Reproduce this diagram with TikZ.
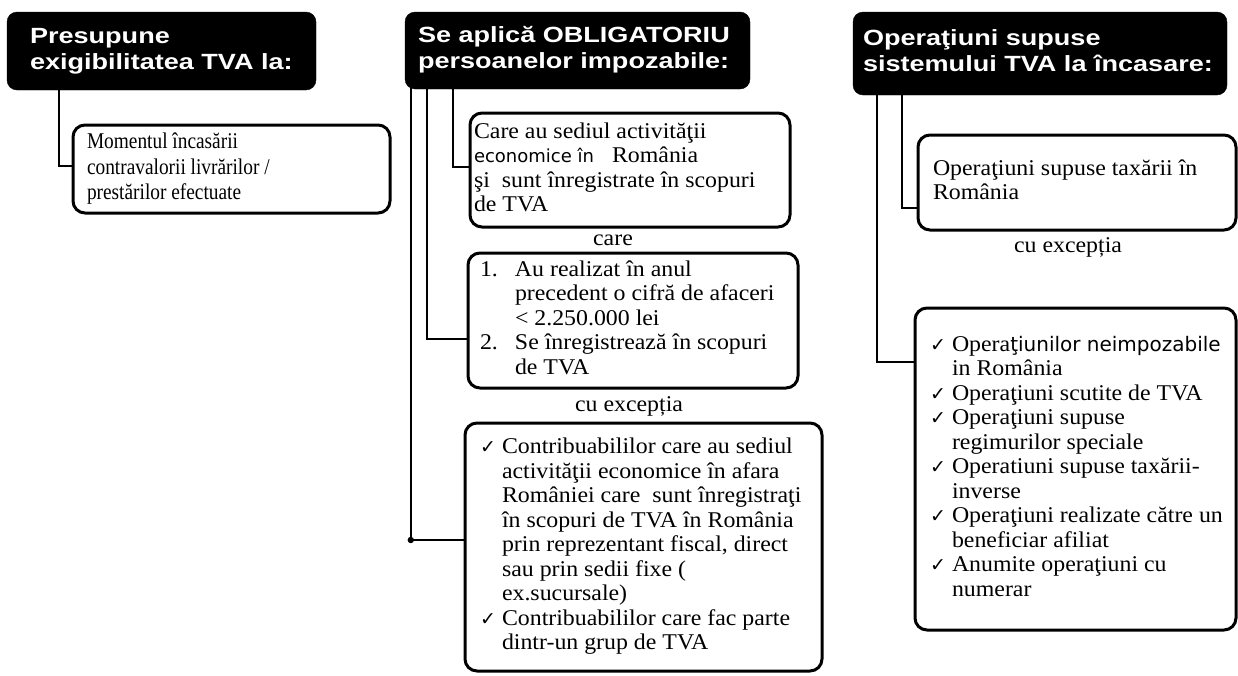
\documentclass[tikz,border=0pt]{standalone}
\usepackage{fontspec}
\setmainfont{Liberation Serif}
\newfontfamily\bodyfont[FakeStretch=1.06]{Liberation Serif}
\newfontfamily\bodycond[FakeStretch=0.86]{Liberation Serif}
\newfontfamily\headfont[FakeStretch=1.23]{Liberation Sans}
\newfontfamily\mixsans{DejaVu Sans}
\newfontfamily\symfont{DejaVu Sans}
\newcommand\ck{\makebox[22pt][l]{\symfont\fontsize{19}{19}\selectfont ✓}}
\newcommand\boxlines[2]{\makebox[#1][l]{\begin{tabular}{@{}l@{}}#2\end{tabular}}}
\newcommand\listlines[2]{\makebox[#1][l]{\begin{tabular}{@{}l@{}l@{}}#2\end{tabular}}}
\begin{document}
\begin{tikzpicture}[x=1pt,y=-1pt,
  head/.style={fill=black, draw=black, rounded corners=10pt, text=white, inner sep=0pt,
    font=\headfont\bfseries\fontsize{22}{26}\selectfont},
  box/.style={draw=black, line width=3pt, fill=white, rounded corners=12pt, inner sep=0pt,
    font=\bodyfont\fontsize{22.5}{24.5}\selectfont},
  link/.style={line width=2.6pt},
  lbl/.style={font=\bodyfont\fontsize{22.5}{24.5}\selectfont, inner sep=0pt}
]
\useasboundingbox (0,0) rectangle (1238,675);

% headers
\node[head, minimum width=309pt, minimum height=78pt] (h1) at (161.5,51)
  {\boxlines{263pt}{Presupune\\exigibilitatea TVA la:}};
\node[head, minimum width=345pt, minimum height=77pt] (h2) at (577.5,50.5)
  {\boxlines{319pt}{Se aplică OBLIGATORIU\\persoanelor impozabile:}};
\node[head, minimum width=374pt, minimum height=83pt] (h3) at (1040,53.5)
  {\boxlines{354pt}{Operaţiuni supuse\\sistemului TVA la încasare:}};

% column 1
\node[box, minimum width=317pt, minimum height=88pt, font=\bodycond\fontsize{22.5}{25.5}\selectfont] (b1) at (231.5,169)
  {\boxlines{289pt}{Momentul încasării\\contravalorii livrărilor /\\prestărilor efectuate}};

% column 2
\node[box, minimum width=320pt, minimum height=114pt] (b2a) at (630,170)
  {\boxlines{312pt}{Care au sediul activităţii\\{\mixsans\fontsize{18}{24.5}\selectfont economice în}\hspace{18pt}România\\şi\ \ sunt înregistrate în scopuri\\de TVA}};
\node[lbl] (care) at (613,240) {care};
\node[box, minimum width=330pt, minimum height=135pt] (b2b) at (633,320.5)
  {\listlines{306pt}{\makebox[35pt][l]{1.} & Au realizat în anul\\
    & precedent o cifră de afaceri\\
    & < 2.250.000 lei\\
    \makebox[35pt][l]{2.} & Se înregistrează în scopuri\\
    & de TVA}};
\node[lbl] (exc2) at (629,406) {cu excepția};
\node[box, minimum width=357pt, minimum height=248pt] (b2c) at (643.5,547)
  {\listlines{327pt}{\ck & Contribuabililor care au sediul\\
    & activităţii economice în afara\\
    & României care\ \ sunt înregistraţi\\
    & în scopuri de TVA în România\\
    & prin reprezentant fiscal, direct\\
    & sau prin sedii fixe (\\
    & ex.sucursale)\\
    \ck & Contribuabililor care fac parte\\
    & dintr-un grup de TVA}};

% column 3
\node[box, minimum width=318pt, minimum height=95pt] (b3a) at (1077,182.5)
  {\boxlines{288pt}{Operaţiuni supuse taxării în\\România}};
\node[lbl] (exc3) at (1068,247) {cu excepția};
\node[box, minimum width=321pt, minimum height=322pt] (b3b) at (1075.5,469)
  {\listlines{291pt}{\ck & Opera{\mixsans\fontsize{20}{24.5}\selectfont ţiunilor neimpozabile}\\
    & in România\\
    \ck & Operaţiuni scutite de TVA\\
    \ck & Operaţiuni supuse\\
    & regimurilor speciale\\
    \ck & Operatiuni supuse taxării-\\
    & inverse\\
    \ck & Operaţiuni realizate către un\\
    & beneficiar afiliat\\
    \ck & Anumite operaţiuni cu\\
    & numerar}};

% connectors
\coordinate (t1) at ([xshift=52pt,yshift=2pt]h1.south west);
\coordinate (e1) at ([yshift=3pt]b1.west);
\draw[link] (t1) |- (e1);

\coordinate (t2a) at ([xshift=48pt,yshift=2pt]h2.south west);
\coordinate (e2a) at ([yshift=3pt]b2a.west);
\draw[link] (t2a) |- (e2a);

\coordinate (t2b) at ([xshift=22pt,yshift=2pt]h2.south west);
\coordinate (e2b) at ([yshift=-18.5pt]b2b.west);
\draw[link] (t2b) |- (e2b);

\coordinate (t2c) at ([xshift=6pt,yshift=2pt]h2.south west);
\coordinate (e2c) at ([yshift=7pt]b2c.west);
\draw[link] (t2c) |- (e2c);
\fill (t2c |- e2c) circle (3.2pt);

\coordinate (t3a) at ([xshift=49pt,yshift=2pt]h3.south west);
\coordinate (e3a) at ([yshift=-25.5pt]b3a.west);
\draw[link] (t3a) |- (e3a);

\coordinate (t3b) at ([xshift=24pt,yshift=2pt]h3.south west);
\coordinate (e3b) at ([yshift=107pt]b3b.west);
\draw[link] (t3b) |- (e3b);
\end{tikzpicture}
\end{document}
